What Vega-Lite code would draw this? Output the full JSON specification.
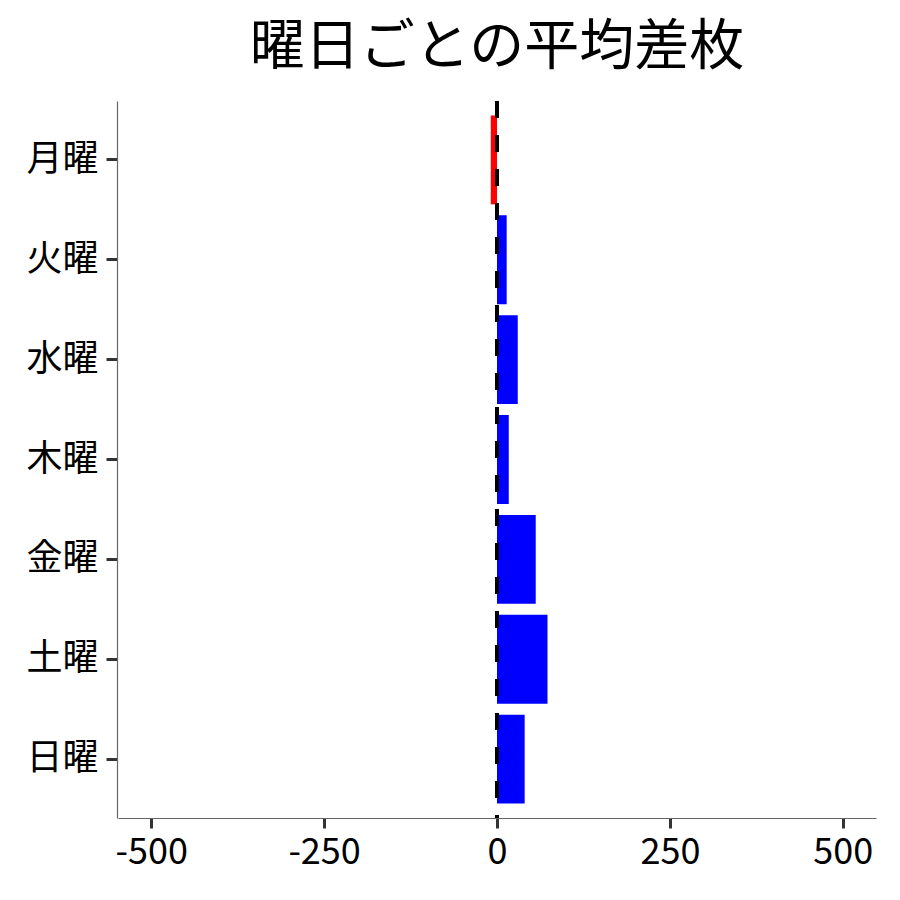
{
  "$schema": "https://vega.github.io/schema/vega-lite/v6.json",
  "width": 758,
  "height": 717,
  "autosize": {"type": "none"},
  "padding": {"left": 118, "top": 101, "right": 24, "bottom": 82},
  "background": "white",
  "title": {
    "text": "曜日ごとの平均差枚",
    "font": "Noto Sans CJK JP",
    "fontSize": 55,
    "fontWeight": "normal",
    "color": "black",
    "anchor": "middle",
    "frame": "group",
    "offset": 23
  },
  "config": {
    "view": {"stroke": null},
    "axis": {
      "labelFont": "Noto Sans CJK JP",
      "labelColor": "black",
      "domainColor": "#666666",
      "domainWidth": 1.2,
      "tickColor": "#333333",
      "tickWidth": 3,
      "tickSize": 10,
      "grid": false,
      "title": null
    }
  },
  "data": {
    "values": [
      {"day": "月曜", "value": -9},
      {"day": "火曜", "value": 14},
      {"day": "水曜", "value": 30},
      {"day": "木曜", "value": 17},
      {"day": "金曜", "value": 56},
      {"day": "土曜", "value": 73},
      {"day": "日曜", "value": 40}
    ]
  },
  "layer": [
    {
      "mark": {"type": "bar"},
      "encoding": {
        "y": {
          "field": "day",
          "type": "nominal",
          "sort": ["月曜", "火曜", "水曜", "木曜", "金曜", "土曜", "日曜"],
          "scale": {"paddingInner": 0.11, "paddingOuter": 0.145},
          "axis": {"labelFontSize": 36, "labelPadding": 8, "tickSize": 11, "offset": 1}
        },
        "x": {
          "field": "value",
          "type": "quantitative",
          "scale": {"domain": [-548, 548], "nice": false, "zero": false},
          "axis": {"values": [-500, -250, 0, 250, 500], "labelFontSize": 36, "labelPadding": 7, "labelExpr": "'' + datum.value"}
        },
        "color": {
          "condition": {"test": "datum.value < 0", "value": "#ff0000"},
          "value": "#0000ff"
        }
      }
    },
    {
      "data": {"values": [{"ref": 0}]},
      "mark": {"type": "rule", "color": "black", "strokeWidth": 4, "strokeDash": [17, 17]},
      "encoding": {
        "x": {"field": "ref", "type": "quantitative"}
      }
    }
  ]
}
